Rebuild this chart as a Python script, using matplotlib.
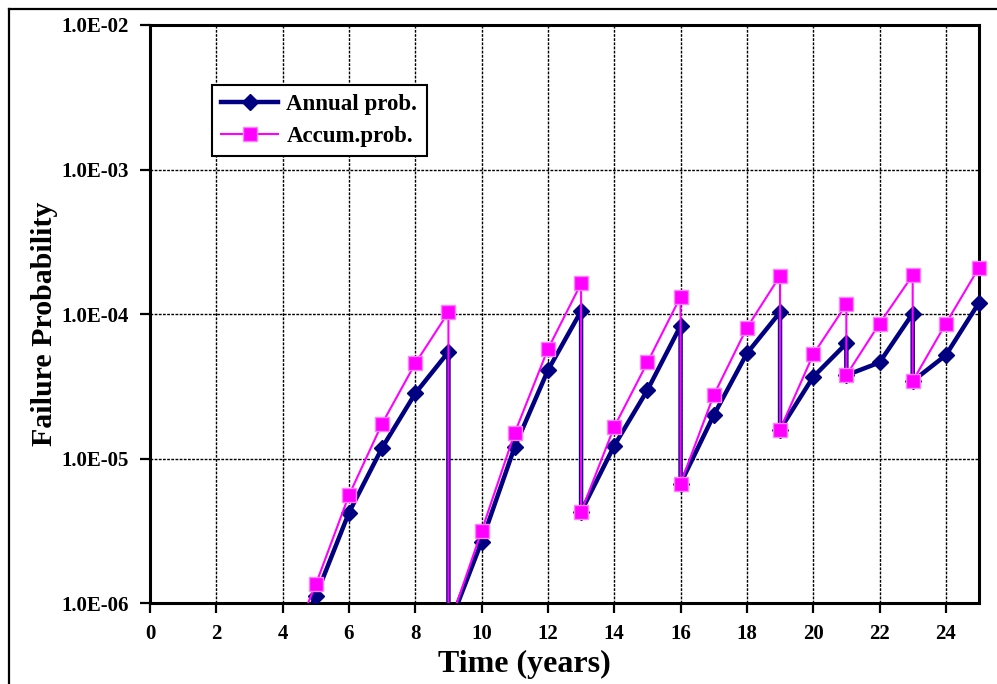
import matplotlib
matplotlib.use("Agg")
import matplotlib.pyplot as plt
from matplotlib.ticker import FixedLocator, FuncFormatter, NullLocator
from matplotlib.patches import Rectangle
from matplotlib.lines import Line2D

# ---- data ----
years = [4, 5, 6, 7, 8, 9, 9, 10, 11, 12, 13, 13, 14, 15, 16, 16, 17, 18, 19, 19,
         20, 21, 21, 22, 23, 23, 24, 25]
annual_prob = [3.7e-7, 1.12e-6, 4.24e-6, 1.19e-5, 2.83e-5, 5.48e-5, 6.8e-7, 2.67e-6,
               1.21e-5, 4.09e-5, 1.05e-4, 4.29e-6, 1.23e-5, 2.98e-5, 8.3e-5, 6.73e-6,
               2.0e-5, 5.35e-5, 1.03e-4, 1.59e-5, 3.68e-5, 6.27e-5, 3.78e-5, 4.63e-5,
               1.01e-4, 3.44e-5, 5.2e-5, 1.2e-4]
accum_prob = [3.8e-7, 1.35e-6, 5.59e-6, 1.75e-5, 4.56e-5, 1.03e-4, 6.8e-7, 3.16e-6,
              1.51e-5, 5.73e-5, 1.63e-4, 4.29e-6, 1.66e-5, 4.63e-5, 1.32e-4, 6.73e-6,
              2.75e-5, 8.04e-5, 1.84e-4, 1.59e-5, 5.26e-5, 1.17e-4, 3.78e-5, 8.61e-5,
              1.86e-4, 3.44e-5, 8.61e-5, 2.1e-4]
x_ticks = [0, 2, 4, 6, 8, 10, 12, 14, 16, 18, 20, 22, 24]
y_ticks = [1e-6, 1e-5, 1e-4, 1e-3, 1e-2]
series_labels = ["Annual prob.", "Accum.prob."]

plt.rcParams['font.family'] = ['Liberation Serif', 'DejaVu Serif']
plt.rcParams['font.weight'] = 'bold'

W, H = 997, 684
fig = plt.figure(figsize=(W / 100, H / 100), dpi=100)
ax = fig.add_axes([150 / W, (H - 603.3) / H, (979 - 150) / W, (603.3 - 25) / H])

ax.set_yscale('log')
ax.set_xlim(0, 25)
ax.set_ylim(1e-6, 1e-2)

clip = Rectangle((0, 0), 1.03, 1.0, transform=ax.transAxes, facecolor='none', edgecolor='none')
ax.add_patch(clip)

l1, = ax.plot(years, annual_prob, color='#000080', lw=3.2, marker='D', markersize=8.5,
              markerfacecolor='#000080', markeredgecolor='#000080', label=series_labels[0],
              zorder=3)
l2, = ax.plot(years, accum_prob, color='#FF00FF', lw=1.5, marker='s', markersize=10,
              markerfacecolor='#FF00FF', markeredgecolor='#FF80FF', markeredgewidth=1,
              label=series_labels[1], zorder=4)
for ln in (l1, l2):
    ln.set_clip_path(clip)

ax.xaxis.set_major_locator(FixedLocator(x_ticks))
ax.yaxis.set_major_locator(FixedLocator(y_ticks))
ax.yaxis.set_minor_locator(NullLocator())
ax.yaxis.set_major_formatter(FuncFormatter(lambda v, p: f"{v:.1E}"))

ax.grid(True, which='major', color='black', linestyle=(0, (2, 1)), linewidth=1)
ax.set_axisbelow(True)

for s in ax.spines.values():
    s.set_linewidth(2.2)
    s.set_color('black')

ax.tick_params(axis='both', which='major', direction='out', length=7, width=1.6,
               labelsize=15, pad=8, colors='black')
ax.tick_params(axis='x', pad=8)
for lab in ax.get_xticklabels() + ax.get_yticklabels():
    lab.set_fontweight('bold')

ax.set_xlabel("Time (years)", fontsize=23, fontweight='bold')
ax.xaxis.set_label_coords(0.452, -0.08)
ax.set_ylabel("Failure Probability", fontsize=21.5, fontweight='bold')
ax.yaxis.set_label_coords(-0.111, 0.483)

leg = ax.legend(loc='upper left', bbox_to_anchor=((212 - 150) / 829, (603.3 - 85) / 578.3),
                borderaxespad=0, frameon=True, fancybox=False, shadow=False,
                prop={'family': ['Liberation Serif'], 'weight': 'bold', 'size': 16.5},
                handlelength=2.5, numpoints=1, labelspacing=0.45, borderpad=0.4,
                handletextpad=0.35)
leg.get_frame().set_edgecolor('black')
leg.get_frame().set_linewidth(1.5)
leg.get_frame().set_alpha(1)

# figure frame (left and top edges visible)
fig.add_artist(Line2D([8.5 / W, 8.5 / W], [0, 1 - 8.5 / H], transform=fig.transFigure,
                      color='black', lw=1.6))
fig.add_artist(Line2D([8.5 / W, 1], [1 - 8.5 / H, 1 - 8.5 / H], transform=fig.transFigure,
                      color='black', lw=1.6))

fig.savefig("out.png", dpi=100)
